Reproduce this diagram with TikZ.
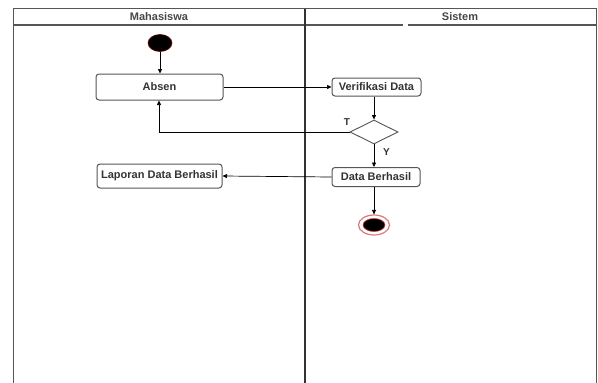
\documentclass[tikz,border=0pt]{standalone}
\usepackage{fontspec}
\setmainfont{Liberation Sans}
\usetikzlibrary{arrows.meta,shapes.geometric}
\definecolor{txt}{HTML}{333333}
\definecolor{edge}{HTML}{555555}
\definecolor{ringred}{HTML}{D04040}
\begin{document}
\begin{tikzpicture}[x=1pt,y=-1pt,
  actbox/.style={draw=edge,line width=1pt,rounded corners=3pt,fill=white,inner sep=0pt,font=\fontsize{11}{13}\selectfont\bfseries,text=txt},
  flow/.style={draw=black,line width=0.7pt,-{Triangle[length=4.5pt,width=4pt]}},
  lane/.style={draw=edge,line width=1.2pt},
  hdr/.style={font=\fontsize{11}{13}\selectfont\bfseries,text=txt!90},
  lbl/.style={font=\fontsize{10}{12}\selectfont\bfseries,text=txt}]
\useasboundingbox (0,0) rectangle (598,383);
\fill[white] (0,0) rectangle (598,383);
% swimlanes
\draw[lane] (13.5,383) -- (13.5,8.5) -- (596.5,8.5) -- (596.5,383);
\draw[lane] (13.5,25) -- (403,25);
\draw[lane] (408,25) -- (596.5,25);
\draw[draw=black!80,line width=1.8pt] (305,8.5) -- (305,383);
\node[hdr] (h1) at (159,16.5) {Mahasiswa};
\node[hdr] (h2) at (460,16.5) {Sistem};
% nodes
\node[ellipse,fill=black,draw={rgb,255:red,110;green,0;blue,0},line width=0.6pt,minimum width=24pt,minimum height=17pt,inner sep=0pt] (start) at (160,43) {};
\node[actbox,minimum width=127pt,minimum height=26pt] (absen) at (159.5,87) {Absen};
\node[actbox,minimum width=89pt,minimum height=18pt] (verif) at (376.5,87) {Verifikasi Data};
\node[diamond,draw=edge,line width=0.9pt,fill=white,minimum width=48pt,minimum height=24pt,inner sep=0pt,aspect=2] (dec) at (374,132) {};
\node[actbox,minimum width=88pt,minimum height=19pt] (berhasil) at (376,177) {Data Berhasil};
\node[actbox,minimum width=125pt,minimum height=24pt] (lapor) at (159.5,176) {Laporan Data Berhasil};
\node[ellipse,draw=ringred!70,line width=1.2pt,fill=white,minimum width=31pt,minimum height=20pt,inner sep=0pt] (endo) at (374,225) {};
\node[ellipse,fill=black,draw=ringred,line width=0.6pt,minimum width=22pt,minimum height=13pt,inner sep=0pt] (endi) at (374,225) {};
\node[lbl] (t) at (347,122) {T};
\node[lbl] (y) at (386.5,152) {Y};
% connectors
\draw[flow] (start) -- (start.south |- absen.north);
\draw[flow] (absen.east) -- (verif.west);
\draw[flow] (verif.south -| dec.north) -- (dec.north);
\coordinate (bend) at (159,133);
\draw[flow] (dec.west) -- (dec.west -| bend) -- (bend |- absen.south);
\draw[flow] (dec.south) -- (dec.south |- berhasil.north);
\draw[flow] (berhasil.west) -- (lapor.east);
\draw[flow] (berhasil.south -| endo.north) -- (endo.north);
\end{tikzpicture}
\end{document}
